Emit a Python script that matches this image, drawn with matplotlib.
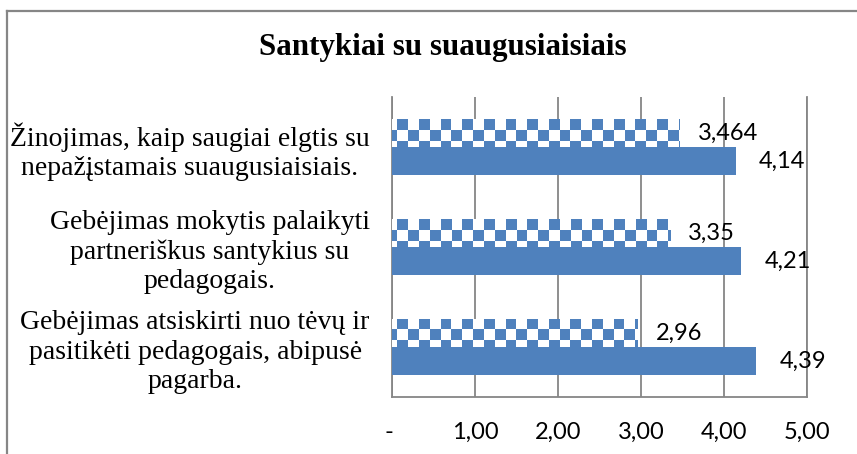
import numpy as np
import matplotlib
matplotlib.use("Agg")
from matplotlib import pyplot as plt
from matplotlib.lines import Line2D

# data (top -> bottom in the chart)
categories = [
    "Žinojimas, kaip saugiai elgtis su\nnepažįstamais suaugusiaisiais.",
    "Gebėjimas mokytis palaikyti\npartneriškus santykius su\npedagogais.",
    "Gebėjimas atsiskirti nuo tėvų ir\npasitikėti pedagogais, abipusė\npagarba.",
]
checker_vals = [3.464, 3.35, 2.96]
checker_labels = ["3,464", "3,35", "2,96"]
solid_vals = [4.14, 4.21, 4.39]
solid_labels = ["4,14", "4,21", "4,39"]
xticks = [0, 1, 2, 3, 4, 5]
xtick_labels = ["- ", "1,00", "2,00", "3,00", "4,00", "5,00"]
title = "Santykiai su suaugusiaisiais"

BLUE = "#4F81BD"
GRID = "#868686"
W, H = 857, 454
CELL_PX = 10.8

fig = plt.figure(figsize=(W / 100, H / 100), dpi=100)
ax = fig.add_axes([392 / W, 57 / H, 415 / W, 300 / H])

n = len(categories)
centers = np.arange(n) + 0.5
bh = 0.28

solid = ax.barh(centers + bh / 2, solid_vals, height=bh, color=BLUE, zorder=3)
chk = ax.barh(centers - bh / 2, checker_vals, height=bh, color="white", zorder=3)

ax.set_xlim(0, 5)
ax.set_ylim(n, 0)

# checkerboard fill, clipped to each bar
fig.canvas.draw()
px_per_x = ax.transData.transform((1, 0))[0] - ax.transData.transform((0, 0))[0]
px_per_y = abs(ax.transData.transform((0, 1))[1] - ax.transData.transform((0, 0))[1])
cw, ch = CELL_PX / px_per_x, CELL_PX / px_per_y
blue_rgb = np.array(matplotlib.colors.to_rgb(BLUE))
for rect in chk.patches:
    x0 = -0.5 * cw
    y0 = rect.get_y()
    ncol = int(np.ceil((rect.get_width() - x0) / cw)) + 1
    nrow = int(np.ceil(rect.get_height() / ch)) + 1
    ii, jj = np.meshgrid(np.arange(nrow), np.arange(ncol), indexing="ij")
    mask = ((ii + jj) % 2 == 1)
    img = np.ones((nrow, ncol, 3))
    img[mask] = blue_rgb
    im = ax.imshow(img, extent=(x0, x0 + ncol * cw, y0 + nrow * ch, y0),
                   origin="upper", interpolation="antialiased", aspect="auto",
                   zorder=4)
    im.set_clip_path(rect)
ax.set_xlim(0, 5)
ax.set_ylim(n, 0)

# value labels
for rect, lab in zip(chk.patches, checker_labels):
    ax.annotate(lab, (rect.get_width(), rect.get_y() + rect.get_height() / 2),
                xytext=(13, 0), textcoords="offset points", va="center",
                ha="left", fontsize=17, family="Lato", zorder=6)
for rect, lab in zip(solid.patches, solid_labels):
    ax.annotate(lab, (rect.get_width(), rect.get_y() + rect.get_height() / 2),
                xytext=(17, 0), textcoords="offset points", va="center",
                ha="left", fontsize=17, family="Lato", zorder=6)

# axes styling
ax.grid(axis="x", color=GRID, lw=1.3, zorder=1)
ax.set_axisbelow(True)
ax.spines["top"].set_visible(False)
for s in ("left", "right", "bottom"):
    ax.spines[s].set_color(GRID)
    ax.spines[s].set_linewidth(1.3)
ax.set_xticks(xticks)
ax.set_xticklabels(xtick_labels, fontsize=17, family="Lato")
ax.tick_params(axis="x", length=0, pad=18)
ax.set_yticks(centers)
ax.set_yticklabels(categories, fontsize=20, family="Liberation Serif",
                   multialignment="center", linespacing=1.22)
ax.tick_params(axis="y", length=0, pad=16)

fig.text(443 / W, 1 - 48 / H, title, ha="center", va="center",
         fontsize=22.3, fontweight="bold", family="Liberation Serif")

# chart frame (cropped at right/bottom)
fig.add_artist(Line2D([7.5 / W, 1.0], [1 - 10.5 / H] * 2, color=GRID, lw=1.6,
                      transform=fig.transFigure))
fig.add_artist(Line2D([7.5 / W] * 2, [0, 1 - 10.5 / H], color=GRID, lw=1.6,
                      transform=fig.transFigure))

fig.savefig("out.png", dpi=100)
